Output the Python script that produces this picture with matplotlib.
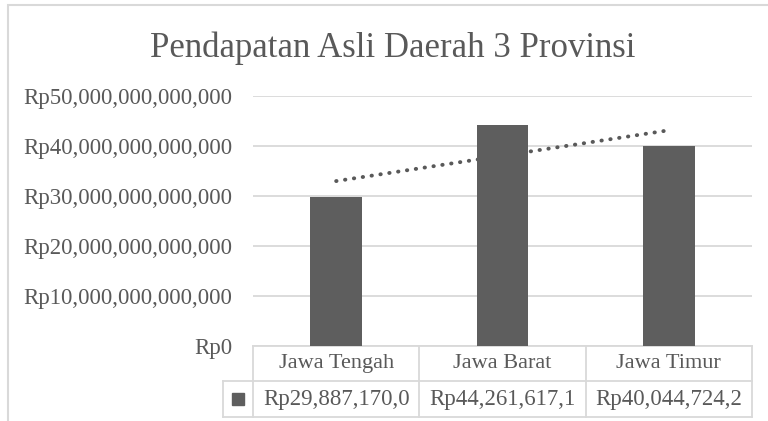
import numpy as np
import matplotlib.pyplot as plt
from matplotlib.transforms import blended_transform_factory

# data
provinces = ["Jawa Tengah", "Jawa Barat", "Jawa Timur"]
pad_values = [29887170000000, 44261617100000, 40044724200000]
table_labels = ["Rp29,887,170,0", "Rp44,261,617,1", "Rp40,044,724,2"]
y_ticks = [0, 10e12, 20e12, 30e12, 40e12, 50e12]

TEXT = '#595959'
BAR = '#5e5e5e'
GRID = '#d9d9d9'

plt.rcParams['font.family'] = ['Liberation Serif', 'DejaVu Serif']

fig = plt.figure(figsize=(7.68, 4.21), dpi=100)
fig.patch.set_facecolor('white')

# chart outer border (Excel chart area)
fig.add_artist(plt.Rectangle((8 / 768, -0.1), 1.2, 1 - 5 / 421 + 0.1,
                             transform=fig.transFigure, fill=False,
                             edgecolor=GRID, linewidth=1.5))

ax = fig.add_axes([253 / 768, 75 / 421, 499 / 768, 250 / 421])
x = np.arange(len(provinces))

ax.bar(x, pad_values, width=0.31, color=BAR, zorder=3)

# linear trendline (drawn behind the bars, like Excel)
coef = np.polyfit(x, pad_values, 1)
ax.plot(x, np.polyval(coef, x), linestyle=(0, (0.1, 2.2)), dash_capstyle='round',
        color=TEXT, linewidth=2.8, zorder=2)

ax.set_xlim(-0.5, len(provinces) - 0.5)
ax.set_ylim(0, 50e12)
ax.set_yticks(y_ticks)
ax.set_yticklabels([f"Rp{v:,.0f}" for v in y_ticks])
ax.tick_params(axis='y', length=0, pad=15, labelsize=16.5, labelcolor=TEXT)
ax.set_xticks([])
ax.grid(axis='y', color=GRID, linewidth=1.3, zorder=0)
for s in ax.spines.values():
    s.set_visible(False)

fig.text(393 / 768, 1 - 48 / 421, "Pendapatan Asli Daerah 3 Provinsi",
         fontsize=25, color=TEXT, ha='center', va='center')

# data table under the axis
tr = blended_transform_factory(ax.transData, ax.transAxes)
r0, r1, r2 = 0.0, -0.14, -0.284
lw = 1.3
ax.plot([-0.5, 2.5], [r0, r0], color=GRID, lw=lw, transform=tr, clip_on=False)
key_left = -0.5 - 30 / 166.5
ax.plot([key_left, 2.5], [r1, r1], color=GRID, lw=lw, transform=tr, clip_on=False)
ax.plot([key_left, 2.5], [r2, r2], color=GRID, lw=lw, transform=tr, clip_on=False)
ax.plot([key_left, key_left], [r1, r2], color=GRID, lw=lw, transform=tr, clip_on=False)
for xv in [-0.5, 0.5, 1.5, 2.5]:
    ax.plot([xv, xv], [r0, r2], color=GRID, lw=lw, transform=tr, clip_on=False)

for i, (name, lab) in enumerate(zip(provinces, table_labels)):
    ax.text(i, (r0 + r1) / 2, name, transform=tr, ha='center', va='center',
            fontsize=16, color=TEXT)
    ax.text(i, (r1 + r2) / 2, lab, transform=tr, ha='center', va='center',
            fontsize=16.5, color=TEXT)

# legend key
ax.plot([-0.5 - 15 / 166.5], [(r1 + r2) / 2], marker='s', markersize=8,
        color=BAR, transform=tr, clip_on=False)

fig.savefig('out.png', dpi=100, facecolor='white')
